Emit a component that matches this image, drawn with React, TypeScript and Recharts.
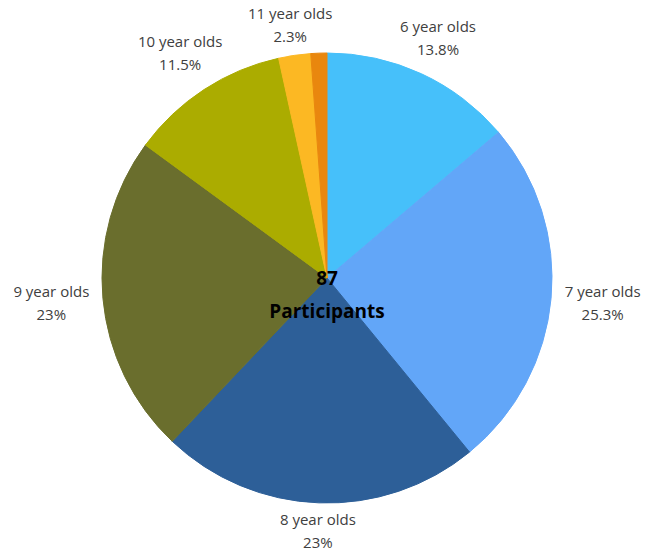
import React from 'react';
import { PieChart, Pie, Cell } from 'recharts';

// Age groups and participant counts (87 in total)
const ageGroups = ['6 year olds', '7 year olds', '8 year olds', '9 year olds', '10 year olds', '11 year olds', '12 year olds'];
const counts = [12, 22, 20, 20, 10, 2, 1];
const showLabel = [true, true, true, true, true, true, false];
const colors = ['#46C0FA', '#62A6F8', '#2D5F98', '#6A6E2D', '#ABAC00', '#FCB823', '#E9870E'];

const total = counts.reduce((a, b) => a + b, 0);

const data = ageGroups.map((name, i) => ({
  name,
  value: counts[i],
  pct: parseFloat(((counts[i] / total) * 100).toFixed(1)),
  show: showLabel[i],
}));

const RAD = Math.PI / 180;
const FONT = '"Open Sans", sans-serif';

// Excel-like outside label, centred on the slice's mid ray
const renderLabel = (props: any) => {
  const { cx, cy, midAngle, outerRadius, index } = props;
  if (!data[index].show) return null;
  const dx = Math.cos(-midAngle * RAD);
  const dy = Math.sin(-midAngle * RAD);
  const dist = outerRadius + 27 + 23 * dx * dx + 11 * Math.abs(2 * dx * dy);
  const x = cx + dist * dx;
  const y = cy + dist * dy;
  return (
    <text x={x} y={y} textAnchor="middle" fill="#404040" fontSize={15} fontFamily={FONT}>
      <tspan x={x} y={y - 6}>{data[index].name}</tspan>
      <tspan x={x} y={y + 17}>{`${data[index].pct}%`}</tspan>
    </text>
  );
};

const App: React.FC = () => {
  return (
    <div style={{ position: 'absolute', left: 0, top: 0, width: 647, height: 551, background: '#fff' }}>
      <PieChart width={647} height={551} margin={{ top: 0, right: 0, bottom: 0, left: 0 }}>
        <Pie
          data={data}
          dataKey="value"
          nameKey="name"
          cx={327}
          cy={278}
          outerRadius={225}
          startAngle={90}
          endAngle={-270}
          label={renderLabel}
          labelLine={false}
          isAnimationActive={false}
        >
          {data.map((d, i) => (
            <Cell key={d.name} fill={colors[i]} stroke={colors[i]} />
          ))}
        </Pie>
      </PieChart>
      <div
        style={{
          position: 'absolute',
          left: 227,
          width: 200,
          top: 262,
          textAlign: 'center',
          fontFamily: FONT,
          fontWeight: 700,
          fontSize: 19,
          lineHeight: '33px',
          color: '#000',
          pointerEvents: 'none',
        }}
      >
        <div>{total}</div>
        <div>Participants</div>
      </div>
    </div>
  );
};

export default App;
